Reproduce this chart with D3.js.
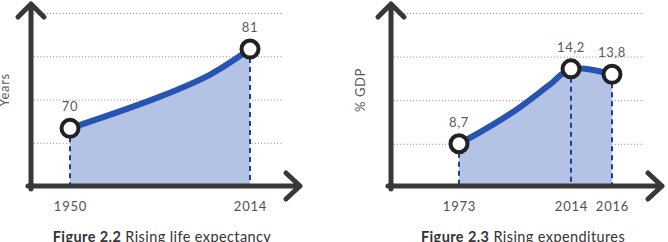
<!DOCTYPE html>
<html>
<head>
<meta charset="utf-8">
<script src="https://cdn.jsdelivr.net/npm/d3@7/dist/d3.min.js"></script>
<style>
  html, body { margin: 0; padding: 0; background: #fff; }
  svg { display: block; }
  text { font-family: "Lato", "Noto Sans", sans-serif; }
</style>
</head>
<body>
<svg id="chart" width="668" height="242"></svg>
<script>
// ---- Figure 2.2 data ----
const lifeYears = [1950, 2014];
const lifeValues = [70, 81];
const lifeLabels = ["70", "81"];
const lifeCurveYears = [1950, 1982, 2000, 2014];
const lifeCurveValues = [70, 74.4, 77.5, 81];
const lifeGrid = [68, 74, 80, 86];
const lifeTitle = ["Figure 2.2", " Rising life expectancy"];
const lifeAxisLabel = "Years";

// ---- Figure 2.3 data ----
const spendYears = [1973, 2014, 2016];
const spendValues = [8.7, 14.2, 13.8];
const spendLabels = ["8,7", "14,2", "13,8"];
const spendCurveYears = [1973, 1982, 1994, 2006, 2014, 2016];
const spendCurveValues = [8.7, 9.7, 11.2, 13.0, 14.2, 13.8];
const spendGrid = [8.7, 11.9, 15.1, 18.3];
const spendTitle = ["Figure 2.3", " Rising expenditures"];
const spendAxisLabel = "% GDP";

const svg = d3.select("#chart");

const AXIS = "#383838", LINE = "#2753b3", FILL = "#b4c3e5", DASH = "#1d3f92";

function drawChart(cfg) {
  const g = svg.append("g");
  const x = d3.scaleLinear().domain(cfg.xDomain).range(cfg.xRange);
  const y = d3.scaleLinear().domain(cfg.yDomain).range([186, 13]);
  const base = 186;
  const crv = d3.curveCatmullRom.alpha(0.5);

  // gridlines
  const grid = g.append("g")
    .attr("transform", `translate(${cfg.axisX + 3},0)`)
    .call(d3.axisLeft(y).tickValues(cfg.grid).tickSize(-(cfg.gridEnd - cfg.axisX - 3)).tickFormat(""));
  grid.select(".domain").remove();
  grid.selectAll(".tick line")
    .attr("stroke", "#8a8a8a").attr("stroke-width", 1).attr("stroke-dasharray", "1,2.2");

  const curve = cfg.curveYears.map((d, i) => [d, cfg.curveValues[i]]);

  // area
  g.append("path").datum(curve)
    .attr("fill", FILL)
    .attr("d", d3.area().x(d => x(d[0])).y0(base).y1(d => y(d[1])).curve(crv));

  // dashed drops
  g.selectAll(".drop").data(cfg.years).join("line")
    .attr("x1", d => x(d)).attr("x2", d => x(d))
    .attr("y1", (d, i) => y(cfg.values[i])).attr("y2", base)
    .attr("stroke", DASH).attr("stroke-width", 2).attr("stroke-dasharray", "5,4");

  // line
  g.append("path").datum(curve)
    .attr("fill", "none").attr("stroke", LINE).attr("stroke-width", 6)
    .attr("stroke-linecap", "round")
    .attr("d", d3.line().x(d => x(d[0])).y(d => y(d[1])).curve(crv));

  // axes with arrows
  const ax = cfg.axisX, tip = cfg.arrowTip;
  g.append("path")
    .attr("d", `M${ax},${base + 3}V4 M${ax - 13},17L${ax},4L${ax + 13},17`)
    .attr("fill", "none").attr("stroke", AXIS).attr("stroke-width", 5)
    .attr("stroke-linecap", "round").attr("stroke-linejoin", "round");
  g.append("path")
    .attr("d", `M${ax - 3},${base}H${tip} M${tip - 14},${base - 13}L${tip},${base}L${tip - 14},${base + 13}`)
    .attr("fill", "none").attr("stroke", AXIS).attr("stroke-width", 5)
    .attr("stroke-linecap", "round").attr("stroke-linejoin", "round");

  // circles
  g.selectAll(".pt").data(cfg.years).join("circle")
    .attr("cx", d => x(d)).attr("cy", (d, i) => y(cfg.values[i])).attr("r", 8.5)
    .attr("fill", "#fff").attr("stroke", "#222").attr("stroke-width", 4);

  // value labels
  g.selectAll(".vl").data(cfg.labels).join("text")
    .attr("x", (d, i) => x(cfg.years[i])).attr("y", (d, i) => y(cfg.values[i]) - 17)
    .attr("text-anchor", "middle").attr("font-size", 13).attr("fill", "#5a5a5a")
    .attr("letter-spacing", 0.6)
    .text(d => d);

  // year labels via axis
  const xa = g.append("g").attr("transform", `translate(0,${base})`)
    .call(d3.axisBottom(x).tickValues(cfg.years).tickSize(0).tickPadding(16).tickFormat(d3.format("d")));
  xa.select(".domain").remove();
  xa.selectAll("text").attr("font-size", 13).attr("fill", "#505050")
    .attr("letter-spacing", 0.8)
    .attr("font-family", "Lato, 'Noto Sans', sans-serif");

  // y-axis label
  g.append("text")
    .attr("transform", `translate(${cfg.yLabelX},90) rotate(-90)`)
    .attr("text-anchor", "middle").attr("font-size", 13).attr("fill", "#5a5a5a")
    .attr("letter-spacing", 0.6)
    .text(cfg.axisLabel);

  // caption
  const t = g.append("text").attr("x", cfg.captionX).attr("y", 242)
    .attr("text-anchor", "middle").attr("font-size", 14.5).attr("fill", "#333")
    .attr("letter-spacing", 0.4);
  t.append("tspan").attr("font-weight", "bold").text(cfg.title[0]);
  t.append("tspan").text(cfg.title[1]);
}

drawChart({
  xDomain: [1950, 2014], xRange: [70, 250],
  yDomain: [62, 86],
  years: lifeYears, values: lifeValues, labels: lifeLabels,
  curveYears: lifeCurveYears, curveValues: lifeCurveValues,
  grid: lifeGrid, axisX: 31, arrowTip: 300, gridEnd: 283,
  yLabelX: 9, axisLabel: lifeAxisLabel, title: lifeTitle, captionX: 162
});

drawChart({
  xDomain: [1973, 2014, 2016], xRange: [459, 571, 612],
  yDomain: [5.6, 18.3],
  years: spendYears, values: spendValues, labels: spendLabels,
  curveYears: spendCurveYears, curveValues: spendCurveValues,
  grid: spendGrid, axisX: 391, arrowTip: 662, gridEnd: 644,
  yLabelX: 365, axisLabel: spendAxisLabel, title: spendTitle, captionX: 523
});
</script>
</body>
</html>
